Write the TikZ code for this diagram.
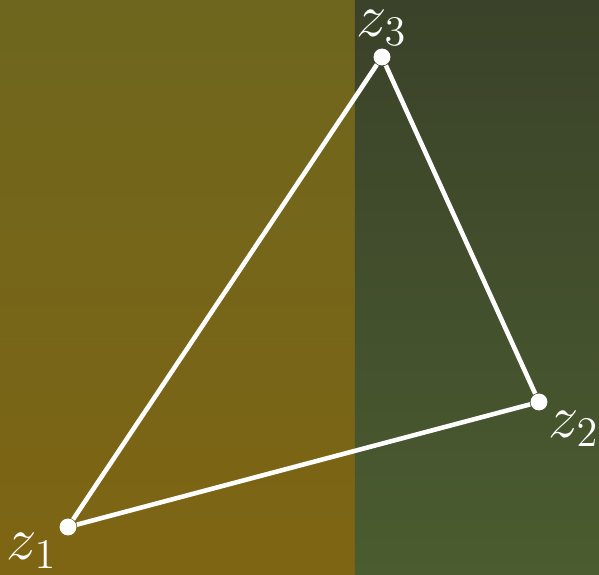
\documentclass[tikz,border=0pt]{standalone}
\usepackage{amsmath,amssymb}
\usepackage{tikz}
\usetikzlibrary{positioning}

\definecolor{olivetop}{HTML}{6E661E}
\definecolor{olivebot}{HTML}{7E6513}
\definecolor{greentop}{HTML}{3A4229}
\definecolor{greenbot}{HTML}{4B5C30}

\begin{document}
\begin{tikzpicture}[
    x=0.01cm, y=-0.01cm,
    vertex/.style={circle, fill=white, inner sep=0pt, minimum size=4.8pt},
    edge/.style={white, line width=1.3pt},
    lbl/.style={text=white, font=\LARGE, inner sep=0pt}
]
\useasboundingbox (0,0) rectangle (599,575);
\shade[top color=olivetop, bottom color=olivebot] (0,0) rectangle (355,575);
\shade[top color=greentop, bottom color=greenbot] (355,0) rectangle (599,575);

\node[vertex] (Z1) at (68,527) {};
\node[vertex] (Z2) at (539,402) {};
\node[vertex] (Z3) at (382,57) {};

\draw[edge] (Z1) -- (Z2) -- (Z3) -- (Z1);

\node[lbl] (L1) at (32,551) {$z_1$};
\node[lbl] (L2) at (574,429) {$z_2$};
\node[lbl] (L3) at (382,28) {$z_3$};
\end{tikzpicture}
\end{document}
